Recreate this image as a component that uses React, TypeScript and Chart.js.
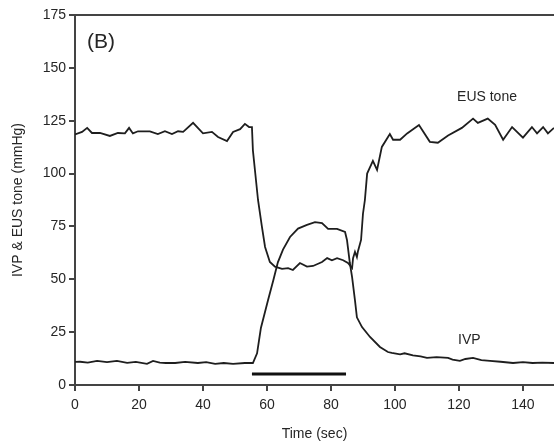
import React, { useEffect, useRef } from "react";
import { Chart, registerables } from "chart.js";

Chart.register(...registerables);

const eusTime = [0, 2.2, 3.8, 5.3, 7.8, 10.9, 13.4, 15.6, 16.9, 18.1, 19.7, 21.3, 23.4, 25.9, 28.1, 30.3, 32.2, 33.8, 36.9, 40, 42.8, 44.7, 47.5, 49.4, 51.6, 53.1, 54.4, 55.3, 55.6, 57.2, 58.4, 59.4, 60.9, 62.5, 64.7, 66.6, 68.1, 70.3, 72.5, 74.4, 77.2, 78.8, 80.3, 81.9, 83.8, 85.3, 86.6, 86.9, 87.5, 88.1, 88.4, 89.4, 90, 90.6, 91.3, 93.1, 94.4, 95.9, 98.4, 99.4, 101.6, 103.8, 107.5, 110.9, 113.4, 116.6, 120.9, 124.4, 125.9, 129, 131.3, 133.8, 136.6, 140, 142.8, 144.4, 146.3, 147.8, 149.7];
const eusValue = [118.5, 119.7, 121.6, 119.2, 119.2, 117.8, 119.2, 119, 121.6, 119, 120, 120, 120, 118.7, 120, 118.7, 120, 119.7, 124, 119, 119.7, 117.3, 115.4, 119.7, 121, 123.5, 122, 122, 111, 87.5, 75, 65.3, 58.2, 56, 54.9, 55.3, 54.4, 57.7, 56, 56.3, 58.2, 60, 59, 60, 59, 57.7, 55.3, 60, 63, 60.5, 63, 68.6, 81, 87.5, 100, 106, 101.7, 112.6, 118.7, 116, 116, 119, 123, 115, 114.6, 118, 121.6, 126, 124, 126, 123, 116, 122, 117, 122, 119, 122, 119, 121.6];

const ivpTime = [0, 1.6, 4, 6.9, 10, 13.1, 16.3, 19, 22.5, 24.4, 26.5, 28.4, 31.3, 34.4, 38.4, 41, 43.8, 46.5, 49.4, 53.1, 55.6, 56.9, 57.5, 58.1, 60.3, 62, 63.4, 65, 67.2, 69.7, 72.5, 75, 77.2, 79.1, 81.9, 84.4, 85, 85.9, 86.6, 87.5, 88.1, 89.7, 92.2, 95.3, 97.8, 99, 101.6, 103, 105.6, 108, 110, 113, 116.6, 118, 120.3, 122, 124.4, 127, 129.7, 133, 136.9, 140, 143, 146, 149.7];
const ivpValue = [10.9, 11, 10.6, 11.4, 10.8, 11.4, 10.5, 10.9, 10, 11.4, 10.6, 10.4, 10.4, 10.9, 10.4, 10.8, 10, 10.4, 10, 10.4, 10.4, 15, 21, 27, 40, 49.7, 58, 64, 70, 74, 75.7, 77, 76.6, 73.8, 73.8, 72.4, 68.6, 57.7, 51, 40, 32, 27.4, 22.7, 18, 15.6, 15.2, 14.5, 15, 14, 13.5, 12.8, 13.2, 12.8, 12, 11.4, 12.3, 12.8, 11.8, 11.4, 11, 10.4, 10.8, 10.4, 10.6, 10.4];

const barTime = [55.3, 84.7];
const barLevel = [5.2, 5.2];

const xMin = 0;
const xMax = 149.7;
const xTicks = [0, 20, 40, 60, 80, 100, 120, 140];
const yMin = 0;
const yMax = 175;
const yTicks = [0, 25, 50, 75, 100, 125, 150, 175];

const panelLabel = "(B)";
const seriesLabels = [
  { text: "EUS tone", t: 119.4, v: 136 },
  { text: "IVP", t: 119.7, v: 21.3 },
];

const FONT = "'Liberation Sans', Arial, sans-serif";
const AXIS = "#444444";
const TEXT = "#262626";
const LINE = "#1e1e1e";

const extrasPlugin = {
  id: "extras",
  afterDraw(chart: any) {
    const { ctx, chartArea, scales } = chart;
    ctx.save();
    ctx.strokeStyle = AXIS;
    ctx.lineWidth = 2;
    ctx.beginPath();
    ctx.moveTo(chartArea.left, chartArea.top);
    ctx.lineTo(chartArea.right, chartArea.top);
    ctx.stroke();
    ctx.fillStyle = TEXT;
    ctx.font = `21px ${FONT}`;
    ctx.textAlign = "left";
    ctx.textBaseline = "middle";
    ctx.fillText(panelLabel, chartArea.left + 12, chartArea.top + 27);
    ctx.font = `14px ${FONT}`;
    for (const l of seriesLabels) {
      ctx.fillText(l.text, scales.x.getPixelForValue(l.t), scales.y.getPixelForValue(l.v));
    }
    ctx.restore();
  },
};

export default function App() {
  const ref = useRef<HTMLCanvasElement | null>(null);
  useEffect(() => {
    if (!ref.current) return;
    const chart = new Chart(ref.current, {
      type: "line",
      data: {
        datasets: [
          {
            label: "EUS tone",
            data: eusTime.map((t, i) => ({ x: t, y: eusValue[i] })),
            borderColor: LINE,
            borderWidth: 1.8,
            pointRadius: 0,
            tension: 0,
          },
          {
            label: "IVP",
            data: ivpTime.map((t, i) => ({ x: t, y: ivpValue[i] })),
            borderColor: LINE,
            borderWidth: 1.8,
            pointRadius: 0,
            tension: 0,
          },
          {
            label: "bar",
            data: barTime.map((t, i) => ({ x: t, y: barLevel[i] })),
            borderColor: "#111111",
            borderWidth: 3,
            pointRadius: 0,
          },
        ],
      },
      options: {
        animation: false,
        responsive: false,
        maintainAspectRatio: false,
        layout: { padding: { top: 15, right: 0, left: 0, bottom: 0 } },
        plugins: { legend: { display: false }, tooltip: { enabled: false } },
        scales: {
          x: {
            type: "linear",
            min: xMin,
            max: xMax,
            ticks: {
              color: TEXT,
              font: { family: FONT, size: 14 },
              padding: 6,
              maxRotation: 0,
              autoSkip: false,
            },
            afterBuildTicks: (s: any) => {
              s.ticks = xTicks.map((v) => ({ value: v }));
            },
            afterFit: (s: any) => {
              s.height = 62;
            },
            grid: { display: true, drawOnChartArea: false, drawTicks: true, tickLength: 6, color: AXIS, lineWidth: 2 },
            border: { display: true, color: AXIS, width: 2 },
            title: {
              display: true,
              text: "Time (sec)",
              color: TEXT,
              font: { family: FONT, size: 14 },
              padding: { top: 0, bottom: 4 },
            },
          },
          y: {
            type: "linear",
            min: yMin,
            max: yMax,
            ticks: {
              color: TEXT,
              font: { family: FONT, size: 14 },
              padding: 3,
              autoSkip: false,
            },
            afterBuildTicks: (s: any) => {
              s.ticks = yTicks.map((v) => ({ value: v }));
            },
            afterFit: (s: any) => {
              s.width = 75;
            },
            grid: { display: true, drawOnChartArea: false, drawTicks: true, tickLength: 6, color: AXIS, lineWidth: 2 },
            border: { display: true, color: AXIS, width: 2 },
            title: {
              display: true,
              text: "IVP & EUS tone (mmHg)",
              color: TEXT,
              font: { family: FONT, size: 14 },
              padding: { top: 10, bottom: 0 },
            },
          },
        },
      },
      plugins: [extrasPlugin],
    });
    return () => chart.destroy();
  }, []);
  return (
    <div style={{ position: "absolute", left: 0, top: 0, width: 554, height: 447, overflow: "hidden", background: "#fff" }}>
      <canvas ref={ref} width={554} height={447} style={{ width: 554, height: 447, display: "block" }} />
    </div>
  );
}
